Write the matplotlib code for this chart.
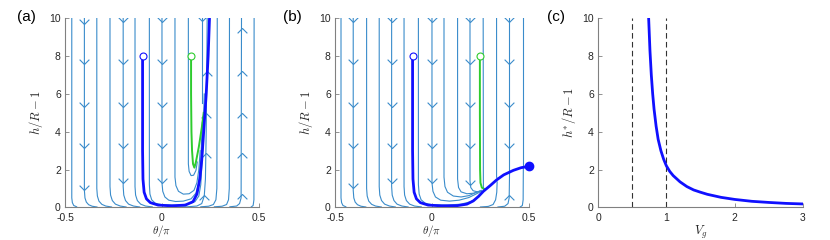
import numpy as np
import matplotlib
matplotlib.use('Agg')
import matplotlib.pyplot as plt
from matplotlib.path import Path

plt.rcParams['font.family'] = ['Liberation Sans', 'DejaVu Sans']
plt.rcParams['mathtext.fontset'] = 'cm'

# streamlines of panel (a): lists of (theta/pi, h/R-1) points
stream_a = [
    [(-0.465, 10), (-0.465, 0.5), (-0.462, 0.25), (-0.455, 0.1), (-0.44, 0.03)],
    [(-0.40, 10), (-0.40, 0.9), (-0.397, 0.5), (-0.39, 0.28), (-0.378, 0.14), (-0.36, 0.06), (-0.335, 0.02)],
    [(-0.336, 10), (-0.336, 1.0), (-0.333, 0.6), (-0.325, 0.33), (-0.31, 0.16), (-0.29, 0.07), (-0.26, 0.02)],
    [(-0.268, 10), (-0.268, 1.1), (-0.265, 0.65), (-0.256, 0.36), (-0.24, 0.17), (-0.215, 0.07), (-0.185, 0.02)],
    [(-0.20, 10), (-0.20, 1.1), (-0.197, 0.65), (-0.188, 0.36), (-0.172, 0.17), (-0.147, 0.07), (-0.115, 0.02)],
    [(-0.139, 10), (-0.139, 1.1), (-0.136, 0.65), (-0.127, 0.36), (-0.11, 0.17), (-0.085, 0.07), (-0.05, 0.025)],
    [(-0.065, 10), (-0.065, 1.2), (-0.062, 0.7), (-0.053, 0.4), (-0.035, 0.22), (0.0, 0.14), (0.07, 0.12),
     (0.13, 0.16), (0.17, 0.3), (0.19, 0.6), (0.2, 1.2), (0.21, 3.0), (0.218, 6.0)],
    [(0.0, 10), (0.0, 1.3), (0.004, 0.85), (0.015, 0.55), (0.035, 0.38), (0.07, 0.31), (0.11, 0.33),
     (0.15, 0.45), (0.175, 0.75), (0.19, 1.3), (0.2, 2.5), (0.208, 4.5)],
    [(0.067, 10), (0.067, 1.6), (0.072, 1.15), (0.085, 0.85), (0.11, 0.7), (0.14, 0.72), (0.165, 0.9),
     (0.18, 1.3), (0.19, 2.0), (0.197, 3.0)],
    [(0.136, 10), (0.136, 2.3), (0.14, 1.9), (0.15, 1.68), (0.163, 1.7), (0.175, 1.95), (0.182, 2.4)],
    [(0.205, 10), (0.205, 5.5)],
    [(0.05, 0.02), (0.13, 0.03), (0.18, 0.07), (0.205, 0.2), (0.218, 0.6), (0.224, 1.5), (0.228, 4.0), (0.233, 10)],
    [(0.2, 0.03), (0.24, 0.06), (0.265, 0.15), (0.278, 0.4), (0.283, 1.0), (0.285, 10)],
    [(0.27, 0.03), (0.31, 0.06), (0.333, 0.15), (0.343, 0.4), (0.347, 1.0), (0.348, 10)],
    [(0.35, 0.03), (0.385, 0.07), (0.4, 0.2), (0.408, 0.5), (0.41, 10)],
    [(0.46, 0.02), (0.47, 0.1), (0.474, 0.4), (0.475, 10)],
]
down_a_x = [-0.40, -0.40, -0.40, -0.40, -0.40, -0.20, -0.20, -0.20, -0.20, -0.20, 0.0, 0.0, 0.0, 0.0, 0.0, 0.205]
down_a_y = [9.7, 7.6, 5.3, 3.15, 0.94, 9.8, 7.6, 5.3, 3.15, 1.28, 9.8, 7.6, 5.3, 3.15, 1.28, 9.85]
up_a_x = [0.23, 0.229, 0.226, 0.218, 0.41, 0.41, 0.41, 0.41, 0.41]
up_a_y = [7.2, 5.0, 2.9, 0.65, 9.5, 7.2, 5.0, 2.9, 0.7]

traj_blue_a = [(-0.1, 8), (-0.1, 3), (-0.098, 1.5), (-0.092, 0.8), (-0.08, 0.45), (-0.06, 0.25), (-0.02, 0.12),
               (0.05, 0.08), (0.12, 0.12), (0.16, 0.3), (0.18, 0.7), (0.195, 1.5), (0.205, 2.5), (0.215, 4.0),
               (0.228, 6.0), (0.238, 8.0), (0.245, 10)]
traj_green_a = [(0.15, 8), (0.15, 6), (0.152, 4), (0.155, 3), (0.16, 2.3), (0.167, 2.1), (0.175, 2.4),
                (0.19, 3.2), (0.205, 4.2), (0.215, 5.0)]

# streamlines of panel (b)
stream_b = [
    [(-0.469, 10), (-0.469, 0.5), (-0.466, 0.25), (-0.459, 0.1), (-0.444, 0.03)],
    [(-0.406, 10), (-0.406, 0.9), (-0.403, 0.5), (-0.396, 0.28), (-0.384, 0.14), (-0.366, 0.06), (-0.341, 0.02)],
    [(-0.337, 10), (-0.337, 1.0), (-0.334, 0.6), (-0.326, 0.33), (-0.311, 0.16), (-0.291, 0.07), (-0.261, 0.02)],
    [(-0.272, 10), (-0.272, 1.1), (-0.269, 0.65), (-0.26, 0.36), (-0.244, 0.17), (-0.219, 0.07), (-0.189, 0.02)],
    [(-0.208, 10), (-0.208, 1.1), (-0.205, 0.65), (-0.196, 0.36), (-0.18, 0.17), (-0.155, 0.07), (-0.123, 0.02)],
    [(-0.144, 10), (-0.144, 1.1), (-0.141, 0.65), (-0.132, 0.36), (-0.115, 0.17), (-0.09, 0.07), (-0.055, 0.025)],
    [(-0.07, 10), (-0.07, 1.2), (-0.066, 0.7), (-0.056, 0.4), (-0.035, 0.22), (0.0, 0.14), (0.08, 0.12),
     (0.15, 0.17), (0.2, 0.3), (0.24, 0.55)],
    [(0.0, 10), (0.0, 1.3), (0.005, 0.85), (0.018, 0.55), (0.045, 0.38), (0.09, 0.33), (0.14, 0.38),
     (0.19, 0.52), (0.23, 0.72), (0.255, 0.85)],
    [(0.062, 10), (0.062, 1.6), (0.067, 1.1), (0.08, 0.8), (0.11, 0.6), (0.15, 0.55), (0.19, 0.62),
     (0.23, 0.8), (0.255, 0.9)],
    [(0.132, 10), (0.132, 1.5), (0.137, 1.05), (0.15, 0.82), (0.18, 0.72), (0.215, 0.75), (0.245, 0.85)],
    [(0.196, 10), (0.196, 1.4), (0.2, 1.05), (0.212, 0.88), (0.235, 0.82), (0.255, 0.87)],
    [(0.264, 10), (0.265, 1.05), (0.272, 0.95)],
    [(0.333, 10), (0.333, 1.6), (0.338, 1.5)],
    [(0.398, 10), (0.398, 1.95)],
    [(0.471, 10), (0.471, 2.2)],
    [(0.25, 0.02), (0.29, 0.05), (0.315, 0.15), (0.328, 0.4), (0.334, 0.8), (0.336, 1.35)],
    [(0.34, 0.02), (0.375, 0.06), (0.392, 0.2), (0.398, 0.5), (0.4, 1.85)],
    [(0.455, 0.02), (0.466, 0.1), (0.47, 0.4), (0.471, 2.05)],
]
down_b_x = [-0.406] * 5 + [-0.208] * 5 + [0.0] * 5 + [0.196] * 5 + [0.398] * 4
down_b_y = [9.8, 7.6, 5.3, 3.16, 1.0, 9.8, 7.6, 5.3, 3.16, 1.3, 9.8, 7.6, 5.3, 3.16, 1.3,
            9.8, 7.6, 5.3, 3.16, 1.2, 9.8, 7.6, 5.3, 3.16]
up_b_x = [0.399]
up_b_y = [0.68]

traj_blue_b = [(-0.1, 8), (-0.1, 3), (-0.098, 1.5), (-0.092, 0.8), (-0.08, 0.45), (-0.06, 0.25), (-0.02, 0.12),
               (0.05, 0.08), (0.13, 0.09), (0.18, 0.17), (0.213, 0.34), (0.24, 0.58), (0.265, 0.85),
               (0.3, 1.15), (0.333, 1.45), (0.37, 1.72), (0.42, 1.96), (0.46, 2.1), (0.5, 2.17)]
traj_green_b = [(0.247, 8), (0.247, 5), (0.248, 2), (0.25, 1.3), (0.257, 1.05), (0.273, 0.93)]

# panel (c): fixed point height vs V_g
vg = [0.741, 0.75, 0.76, 0.78, 0.80, 0.82, 0.85, 0.88, 0.92, 0.96, 1.0, 1.05, 1.1, 1.2, 1.3, 1.4,
      1.5, 1.6, 1.8, 2.0, 2.25, 2.5, 2.75, 3.0]
hstar = [10, 9.2, 8.3, 7.0, 6.0, 5.2, 4.3, 3.6, 3.0, 2.55, 2.2, 1.9, 1.68, 1.35, 1.1, 0.92,
         0.8, 0.69, 0.53, 0.42, 0.32, 0.26, 0.21, 0.18]
vg_dashed = [0.5, 1.0]

stream_col = '#3a8ccb'
ax_col = '#808080'
txt_col = '#262626'

down_mark = Path([(-1, 1), (0, 0), (1, 1)], [Path.MOVETO, Path.LINETO, Path.LINETO])
up_mark = Path([(-1, -1), (0, 0), (1, -1)], [Path.MOVETO, Path.LINETO, Path.LINETO])


def style(ax):
    for s in ['top', 'right']:
        ax.spines[s].set_visible(False)
    for s in ['left', 'bottom']:
        ax.spines[s].set_color(ax_col)
        ax.spines[s].set_linewidth(0.8)
    ax.tick_params(direction='in', length=3, width=0.6, color=ax_col, labelcolor=txt_col,
                   labelsize=7.5)
    ax.tick_params(axis='x', pad=4)
    ax.tick_params(axis='y', pad=3)
    ax.set_ylim(0, 10)
    ax.set_yticks([0, 2, 4, 6, 8, 10])


def phase(ax, streams, dx, dy, ux, uy, blue, green):
    for s in streams:
        p = np.array(s)
        ax.plot(p[:, 0], p[:, 1], color=stream_col, lw=0.8)
    ax.plot(dx, dy, ls='', marker=down_mark, ms=7, mfc='none', mec=stream_col, mew=0.8)
    ax.plot(ux, uy, ls='', marker=up_mark, ms=7, mfc='none', mec=stream_col, mew=0.8)
    b = np.array(blue)
    g = np.array(green)
    ax.plot(g[:, 0], g[:, 1], color='#2ecc2e', lw=1.4)
    ax.plot(b[:, 0], b[:, 1], color='#1010ff', lw=2.0, solid_capstyle='round')
    ax.plot(b[0, 0], b[0, 1], 'o', ms=5, mfc='white', mec='#1010ff', mew=0.8)
    ax.plot(g[0, 0], g[0, 1], 'o', ms=5, mfc='white', mec='#2ecc2e', mew=0.8)
    ax.set_xlim(-0.5, 0.5)
    ax.set_xticks([-0.5, 0, 0.5])
    ax.set_xticklabels(['-0.5', '0', '0.5'])
    style(ax)
    ax.set_xlabel(r'$\theta/\pi$', fontsize=8, color=txt_col, va='top')
    ax.xaxis.set_label_coords(0.5, -0.085)
    ax.set_ylabel(r'$h/R-1$', fontsize=9, color=txt_col, labelpad=3)


fig = plt.figure(figsize=(8.3, 2.4), dpi=100)
ax1 = fig.add_axes([0.0783, 0.136, 0.2337, 0.7875])
ax2 = fig.add_axes([0.4036, 0.136, 0.2337, 0.7875])
ax3 = fig.add_axes([0.7205, 0.136, 0.247, 0.7875])

phase(ax1, stream_a, down_a_x, down_a_y, up_a_x, up_a_y, traj_blue_a, traj_green_a)
phase(ax2, stream_b, down_b_x, down_b_y, up_b_x, up_b_y, traj_blue_b, traj_green_b)
ax2.plot(traj_blue_b[-1][0], traj_blue_b[-1][1], 'o', ms=6, color='#1010ff', clip_on=False, zorder=5)

for v in vg_dashed:
    ax3.plot([v, v], [0, 10], color='#333333', lw=0.8, ls=(0, (5, 3)))
ax3.plot(vg, hstar, color='#1010ff', lw=2.0)
ax3.set_xlim(0, 3)
ax3.set_xticks([0, 1, 2, 3])
style(ax3)
ax3.set_xlabel(r'$V_g$', fontsize=9, color=txt_col, labelpad=1)
ax3.set_ylabel(r'$h^{*}/R-1$', fontsize=9, color=txt_col, labelpad=3)

fig.text(0.02, 0.93, '(a)', fontsize=11, color='black', va='center')
fig.text(0.341, 0.93, '(b)', fontsize=11, color='black', va='center')
fig.text(0.659, 0.93, '(c)', fontsize=11, color='black', va='center')

fig.savefig('out.png', dpi=100)
